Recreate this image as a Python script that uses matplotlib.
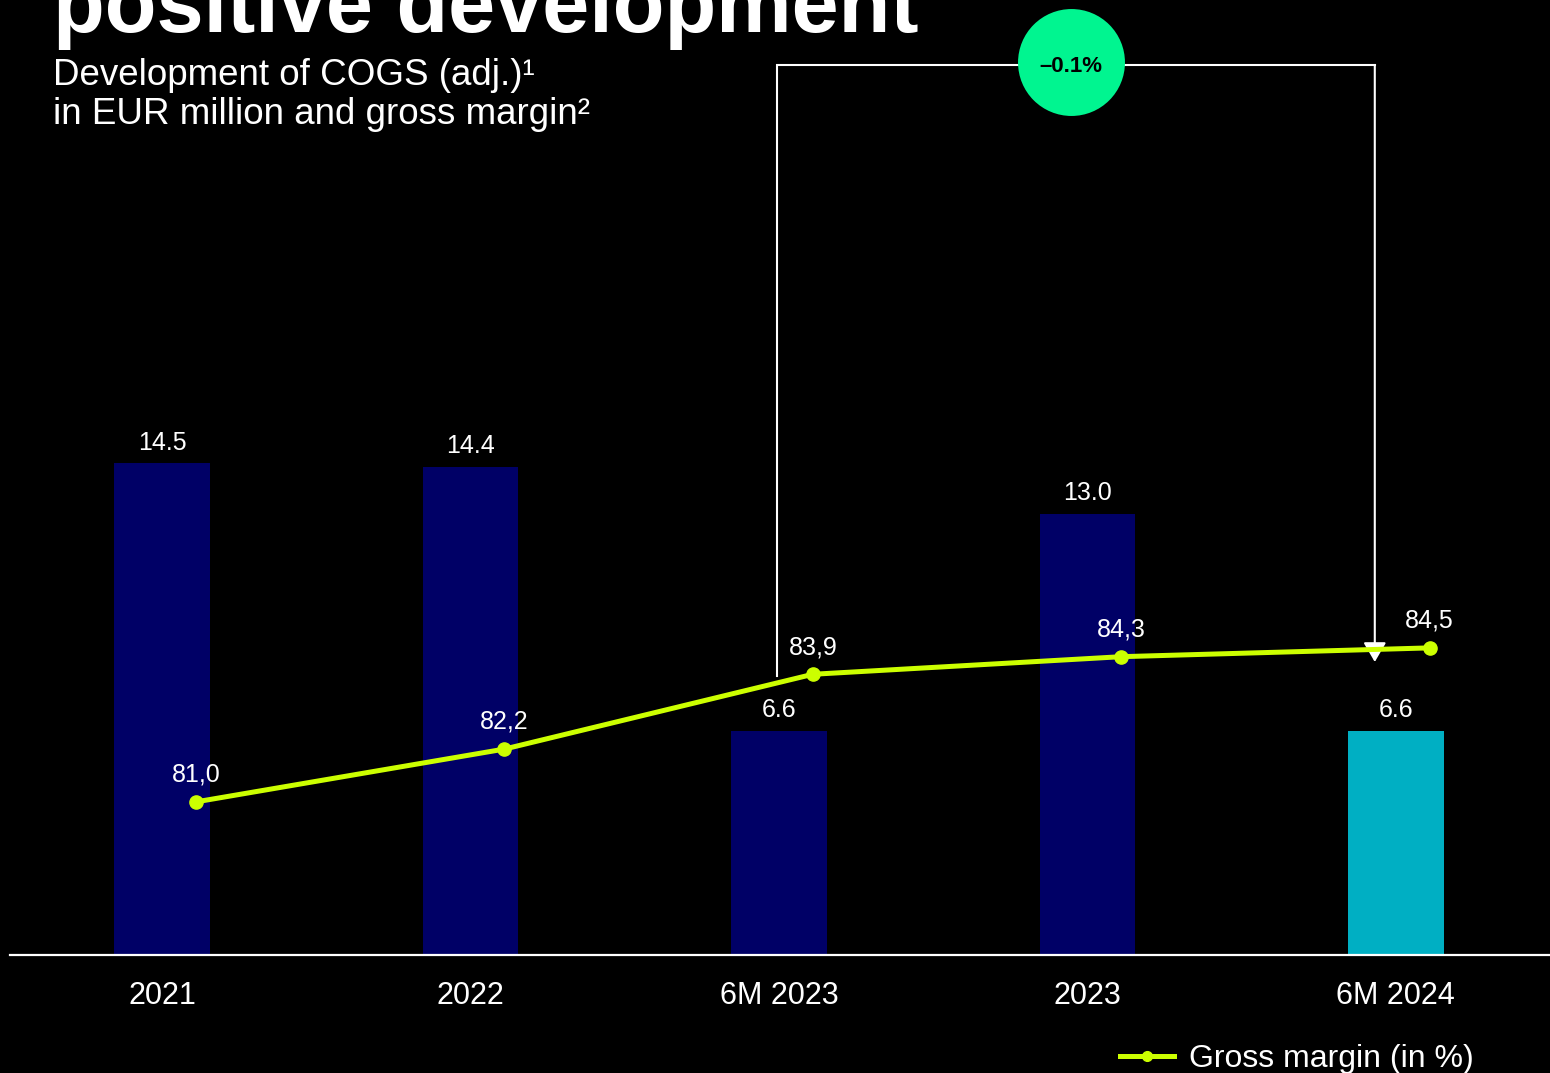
import matplotlib
matplotlib.use("Agg")
import matplotlib.pyplot as plt
import numpy as np

plt.rcParams['font.family'] = ['Liberation Sans', 'DejaVu Sans']

# data
periods = ["2021", "2022", "6M 2023", "2023", "6M 2024"]
cogs = [14.5, 14.4, 6.6, 13.0, 6.6]
cogs_labels = ["14.5", "14.4", "6.6", "13.0", "6.6"]
gross_margin = [81.0, 82.2, 83.9, 84.3, 84.5]
margin_labels = ["81,0", "82,2", "83,9", "84,3", "84,5"]
change_label = "\u20130.1%"

navy = "#000066"
teal = "#00AFC3"
lime = "#CCFF00"
green = "#00F590"

W, H = 1550, 1073
fig = plt.figure(figsize=(W / 100, H / 100), dpi=100, facecolor="black")

# axes span from x=10px to right edge, baseline at y=955px up to top
ax = fig.add_axes([10 / W, (H - 955) / H, 1540 / W, 955 / H])
ax.set_facecolor("black")
x = np.arange(len(periods))
colors = [navy] * (len(periods) - 1) + [teal]
ax.bar(x, cogs, width=0.31, color=colors, zorder=2)
ax.set_xlim(-0.493, 4.5)
ax.set_ylim(0, 955 / 33.9)

for i, (v, lab) in enumerate(zip(cogs, cogs_labels)):
    ax.annotate(lab, (i, v), xytext=(0, 10), textcoords="offset points",
                ha="center", va="baseline", color="white", fontsize=18)

for s in ["top", "right", "left"]:
    ax.spines[s].set_visible(False)
ax.spines["bottom"].set_color("white")
ax.spines["bottom"].set_linewidth(1.6)
ax.set_yticks([])
ax.set_xticks(x)
ax.set_xticklabels(periods, color="white", fontsize=22)
ax.tick_params(axis="x", length=0, pad=19)

# gross margin on secondary axis
ax2 = ax.twinx()
ax2.set_ylim(77.52, 77.52 + 955 / 44)
ax2.axis("off")
xl = x + 0.11
ax2.plot(xl, gross_margin, color=lime, lw=3.6, marker="o", ms=9.5, zorder=4)
for xi, v, lab in zip(xl, gross_margin, margin_labels):
    ax2.annotate(lab, (xi, v), xytext=(0, 14.5), textcoords="offset points",
                 ha="center", va="baseline", color="white", fontsize=18)

# bracket showing change between 6M 2023 and 6M 2024
bx0 = (777 - 162) / 308.5
bx1 = (1375 - 162) / 308.5
ytop = 77.52 + (955 - 65) / 44
ax2.plot([bx0, bx0, bx1], [83.86, ytop, ytop], color="white", lw=1.5,
         clip_on=False, zorder=3, solid_joinstyle="miter")
ax2.annotate("", xy=(bx1, 84.18), xytext=(bx1, ytop),
             arrowprops=dict(arrowstyle="-|>,head_width=0.35,head_length=0.6",
                             mutation_scale=20, color="white", lw=1.5,
                             shrinkA=0, shrinkB=0),
             zorder=3)
cx = (1071 - 162) / 308.5
cy = 77.52 + (955 - 62) / 44
ax2.scatter([cx], [cy], s=77 ** 2, color=green, zorder=5, clip_on=False,
            linewidths=0)
ax2.text(cx, cy - 0.1, change_label, ha="center", va="center", fontsize=16,
         fontweight="bold", color="black", zorder=6)

# title and subtitle
fig.text(53 / W, 1 - 32 / H, "positive development", color="white",
         fontsize=61, fontweight="bold", ha="left", va="baseline")
fig.text(53 / W, 1 - 85 / H, "Development of COGS (adj.)\u00b9", color="white",
         fontsize=26.5, ha="left", va="baseline")
fig.text(53 / W, 1 - 124 / H, "in EUR million and gross margin\u00b2", color="white",
         fontsize=26.5, ha="left", va="baseline")

# legend
leg = fig.legend([plt.Line2D([], [], color=lime, lw=3.6, marker="o", ms=7)],
                 ["Gross margin (in %)"], loc="center left",
                 bbox_to_anchor=(1120 / W, 1 - 1059 / H), frameon=False,
                 fontsize=23, handlelength=1.7, handletextpad=0.45,
                 borderpad=0, borderaxespad=0)
for t in leg.get_texts():
    t.set_color("white")

fig.savefig("out.png", dpi=100, facecolor="black")
